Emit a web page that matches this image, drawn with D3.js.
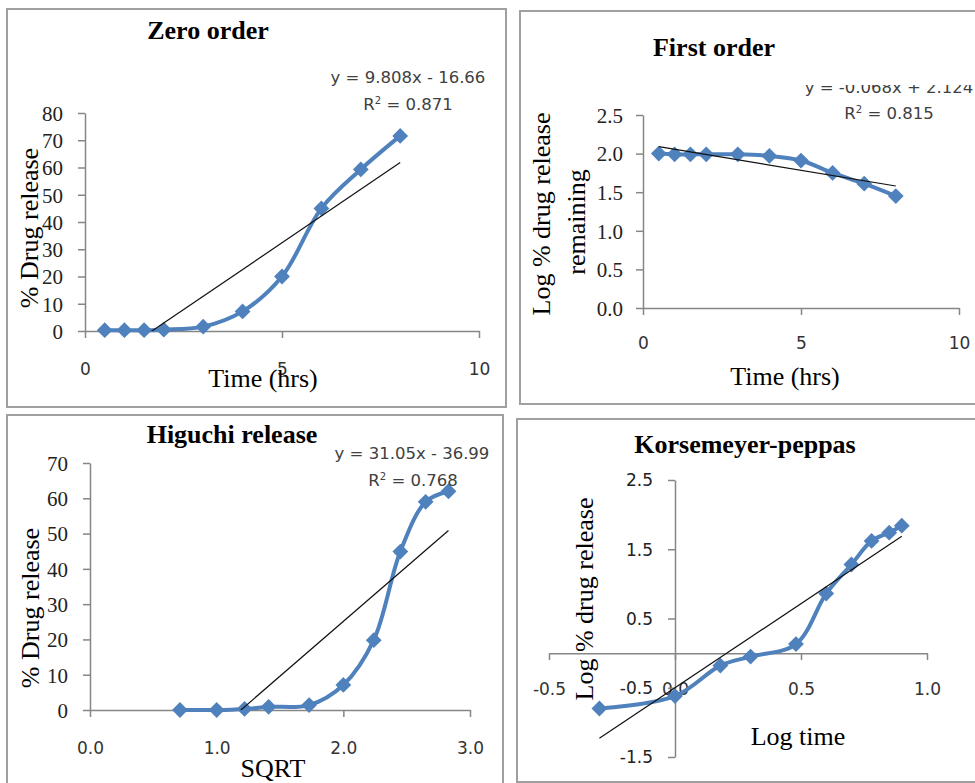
<!DOCTYPE html>
<html>
<head>
<meta charset="utf-8">
<script src="https://cdn.jsdelivr.net/npm/d3@7"></script>
<style>
  body { margin: 0; background: #fff; }
  svg { display: block; }
</style>
</head>
<body>
<svg width="975" height="783"></svg>
<script>
// release data
const timeHrs = [0.5, 1, 1.5, 2, 3, 4, 5, 6, 7, 8];
const zeroRelease = [0.3, 0.3, 0.3, 0.5, 1.6, 7.2, 20.0, 45.0, 59.3, 71.6];
const firstLogRemaining = [2.00, 1.99, 1.99, 1.99, 1.99, 1.97, 1.91, 1.75, 1.61, 1.45];
const sqrtTime = [0.71, 1.00, 1.22, 1.41, 1.73, 2.00, 2.24, 2.45, 2.65, 2.83];
const higuchiRelease = [0.0, 0.0, 0.3, 0.9, 1.4, 7.1, 19.8, 44.9, 59.0, 62.0];
const logTime = [-0.30, 0.00, 0.18, 0.30, 0.48, 0.60, 0.70, 0.78, 0.85, 0.90];
const kpLogRelease = [-0.80, -0.62, -0.18, -0.05, 0.13, 0.86, 1.28, 1.62, 1.74, 1.84];

// trendlines [slope, intercept]
const zeroTrend = [9.808, -16.66];
const firstTrend = [-0.068, 2.124];
const higuchiTrend = [31.05, -36.99];
const kpTrend = [2.43, -0.50];

// tick labels
const timeTicks = [0, 5, 10];
const zeroYTicks = [0, 10, 20, 30, 40, 50, 60, 70, 80];
const firstYTicks = [0, 0.5, 1.0, 1.5, 2.0, 2.5];
const sqrtTicks = [0, 1, 2, 3];
const higuchiYTicks = [0, 10, 20, 30, 40, 50, 60, 70];
const logTimeTicks = [-0.5, 0, 0.5, 1.0];
const kpYTicks = [-1.5, -0.5, 0.5, 1.5, 2.5];

const svg = d3.select('svg');
const blue = '#4F81BD';
const axisGray = '#868686';
const serif = '"Liberation Serif", "Times New Roman", serif';
const sans = '"DejaVu Sans", Verdana, sans-serif';

// plain hyphen for negatives, like the original
const locale = d3.formatLocale({decimal: '.', thousands: ',', grouping: [3], currency: ['', ''], minus: '-'});
const f1 = locale.format('.1f');
const fInt = locale.format('d');

// panel frames
const frames = [
  [7, 9, 499, 398],
  [520, 11, 470, 393],
  [7, 415, 496, 380],
  [517, 419, 470, 363]
];
svg.selectAll('rect.frame')
  .data(frames)
  .enter().append('rect')
  .attr('class', 'frame')
  .attr('x', d => d[0]).attr('y', d => d[1])
  .attr('width', d => d[2]).attr('height', d => d[3])
  .attr('fill', 'none')
  .attr('stroke', '#a0a0a0')
  .attr('stroke-width', 2);

function panel(cfg) {
  const g = svg.append('g');
  const x = d3.scaleLinear().domain(cfg.xDomain).range(cfg.xRange);
  const y = d3.scaleLinear().domain(cfg.yDomain).range(cfg.yRange);
  const x0 = cfg.xAxisAt === undefined ? cfg.yDomain[0] : cfg.xAxisAt;
  const y0 = cfg.yAxisAt === undefined ? cfg.xDomain[0] : cfg.yAxisAt;

  // x axis
  const xa = g.append('g')
    .attr('transform', `translate(0,${y(x0)})`)
    .call(d3.axisBottom(x).tickValues(cfg.xTicks).tickSize(7).tickSizeOuter(0).tickFormat(cfg.xFormat));
  xa.select('.domain').attr('stroke', axisGray).attr('stroke-width', 1.5);
  xa.selectAll('.tick line').attr('stroke', axisGray).attr('stroke-width', 1.5);
  xa.selectAll('text')
    .attr('y', cfg.xLabelOffset).attr('dy', 0)
    .style('font-family', sans).style('font-size', '17px').attr('fill', '#333');

  // y axis
  const ya = g.append('g')
    .attr('transform', `translate(${x(y0)},0)`)
    .call(d3.axisLeft(y).tickValues(cfg.yTicks).tickSize(7).tickSizeOuter(0).tickFormat(cfg.yFormat));
  ya.select('.domain').attr('stroke', axisGray).attr('stroke-width', 1.5);
  ya.selectAll('.tick line').attr('stroke', axisGray).attr('stroke-width', 1.5);
  ya.selectAll('text')
    .attr('x', -cfg.yLabelGap).attr('dy', '0.35em')
    .style('font-family', cfg.yFont).style('font-size', cfg.yFontSize).attr('fill', '#222');

  // data line
  const pts = cfg.xs.map((d, i) => [d, cfg.ys[i]]);
  g.append('path')
    .datum(pts)
    .attr('fill', 'none')
    .attr('stroke', blue)
    .attr('stroke-width', 4)
    .attr('stroke-linejoin', 'round')
    .attr('d', d3.line().x(d => x(d[0])).y(d => y(d[1])).curve(d3.curveCatmullRom.alpha(0.5)));

  g.selectAll('path.pt')
    .data(pts)
    .enter().append('path')
    .attr('class', 'pt')
    .attr('d', d3.symbol(d3.symbolSquare, 125))
    .attr('transform', d => `translate(${x(d[0])},${y(d[1])}) rotate(45)`)
    .attr('fill', blue);

  // trendline, clipped to the plot area
  const clipId = 'clip' + cfg.id;
  g.append('clipPath').attr('id', clipId)
    .append('rect')
    .attr('x', cfg.xRange[0]).attr('y', cfg.yRange[1])
    .attr('width', cfg.xRange[1] - cfg.xRange[0])
    .attr('height', cfg.yRange[0] - cfg.yRange[1]);
  const xMin = d3.min(cfg.xs), xMax = d3.max(cfg.xs);
  g.append('line')
    .attr('clip-path', `url(#${clipId})`)
    .attr('x1', x(xMin)).attr('y1', y(cfg.trend[0] * xMin + cfg.trend[1]))
    .attr('x2', x(xMax)).attr('y2', y(cfg.trend[0] * xMax + cfg.trend[1]))
    .attr('stroke', '#111')
    .attr('stroke-width', 1.2);

  // title
  g.append('text')
    .attr('x', cfg.title[1]).attr('y', cfg.title[2])
    .attr('text-anchor', 'middle')
    .style('font-family', serif).style('font-size', '26px').style('font-weight', 'bold')
    .text(cfg.title[0]);

  // axis titles
  g.append('text')
    .attr('x', cfg.xTitle[1]).attr('y', cfg.xTitle[2])
    .attr('text-anchor', 'middle')
    .style('font-family', serif).style('font-size', '26px')
    .text(cfg.xTitle[0]);

  cfg.yTitle.forEach(t => {
    g.append('text')
      .attr('transform', `translate(${t[1]},${t[2]}) rotate(-90)`)
      .attr('text-anchor', 'middle')
      .style('font-family', serif).style('font-size', '26px')
      .text(t[0]);
  });

  // equation
  if (cfg.eq) {
    cfg.eq.forEach((t, i) => {
      const txt = g.append('text')
        .attr('x', t[1]).attr('y', t[2])
        .attr('text-anchor', 'middle')
        .style('font-family', sans).style('font-size', '16.5px')
        .attr('fill', '#404040');
      if (t[0].startsWith('R')) {
        txt.append('tspan').text('R');
        txt.append('tspan').attr('dy', -6).style('font-size', '10px').text('2');
        txt.append('tspan').attr('dy', 6).text(t[0].slice(2));
      } else {
        txt.text(t[0]);
      }
      if (cfg.eqClip && i === 0) {
        g.append('clipPath').attr('id', 'eqclip' + cfg.id)
          .append('rect').attr('x', 700).attr('y', cfg.eqClip).attr('width', 300).attr('height', 40);
        txt.attr('clip-path', `url(#eqclip${cfg.id})`);
      }
    });
  }
}

panel({
  id: 1,
  xs: timeHrs, ys: zeroRelease, trend: zeroTrend,
  xDomain: [0, 10], xRange: [85, 479],
  yDomain: [0, 80], yRange: [331, 113],
  xTicks: timeTicks, yTicks: zeroYTicks,
  xFormat: fInt, yFormat: fInt,
  xLabelOffset: 44, yLabelGap: 22, yFont: serif, yFontSize: '21px',
  title: ['Zero order', 208, 39],
  xTitle: ['Time (hrs)', 263, 387],
  yTitle: [['% Drug release', 38, 228]],
  eq: [['y = 9.808x - 16.66', 408, 83], ['R2 = 0.871', 408, 110]]
});

panel({
  id: 2,
  xs: timeHrs, ys: firstLogRemaining, trend: firstTrend,
  xDomain: [0, 10], xRange: [643, 959],
  yDomain: [0, 2.5], yRange: [308, 115],
  xTicks: timeTicks, yTicks: firstYTicks,
  xFormat: fInt, yFormat: f1,
  xLabelOffset: 41, yLabelGap: 20, yFont: serif, yFontSize: '21px',
  title: ['First order', 714, 56],
  xTitle: ['Time (hrs)', 785, 385],
  yTitle: [['Log % drug release', 550, 214], ['remaining', 585, 222]],
  eq: [['y = -0.068x + 2.124', 889, 93], ['R2 = 0.815', 889, 119]],
  eqClip: 85
});

panel({
  id: 3,
  xs: sqrtTime, ys: higuchiRelease, trend: higuchiTrend,
  xDomain: [0, 3], xRange: [90, 470],
  yDomain: [0, 70], yRange: [710, 463],
  xTicks: sqrtTicks, yTicks: higuchiYTicks,
  xFormat: f1, yFormat: fInt,
  xLabelOffset: 44, yLabelGap: 22, yFont: serif, yFontSize: '21px',
  title: ['Higuchi release', 232, 443],
  xTitle: ['SQRT', 273, 777],
  yTitle: [['% Drug release', 39, 608]],
  eq: [['y = 31.05x - 36.99', 412, 459], ['R2 = 0.768', 413, 486]]
});

panel({
  id: 4,
  xs: logTime, ys: kpLogRelease, trend: kpTrend,
  xDomain: [-0.5, 1.0], xRange: [549, 927],
  yDomain: [-1.5, 2.5], yRange: [757, 480],
  xAxisAt: 0, yAxisAt: 0,
  xTicks: logTimeTicks, yTicks: kpYTicks,
  xFormat: f1, yFormat: f1,
  xLabelOffset: 42, yLabelGap: 22, yFont: sans, yFontSize: '17px',
  title: ['Korsemeyer-peppas', 745, 453],
  xTitle: ['Log time', 798, 745],
  yTitle: [['Log % drug release', 593, 599]]
});
</script>
</body>
</html>
